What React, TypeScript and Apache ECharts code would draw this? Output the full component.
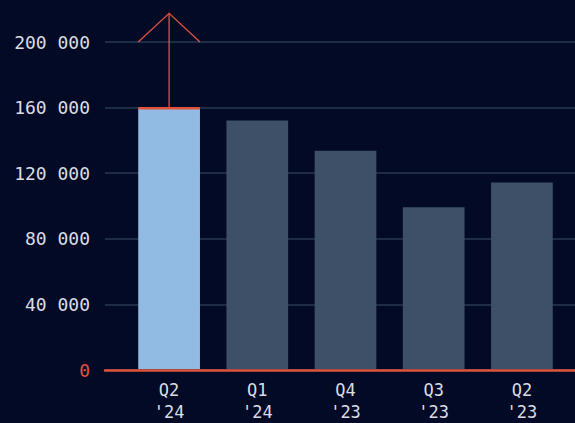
import React, { useEffect, useRef } from "react";
import * as echarts from "echarts";

const categories = ["Q2\n'24", "Q1\n'24", "Q4\n'23", "Q3\n'23", "Q2\n'23"];
const values = [159500, 152000, 133500, 99000, 114000];
const highlightIndex = 0;
const yTicks = { min: 0, max: 200000, interval: 40000 };
// arrow: [category index, start value, tip value, wing value]
const arrowData = [[0, 159500, 217500, 200000]];

const BG = "#020a26";
const RED = "#e0533d";
const LIGHT = "#92bbe3";
const SLATE = "#3d5068";
const GRID = "#2a3850";
const TEXT = "#dcdde3";
const FONT = "DejaVu Sans Mono";

function fmt(v: number) {
  return String(v).replace(/\B(?=(\d{3})+(?!\d))/g, " ");
}

export default function App() {
  const ref = useRef<HTMLDivElement>(null);
  useEffect(() => {
    if (!ref.current) return;
    const chart = echarts.init(ref.current, undefined, { renderer: "svg" });
    chart.setOption({
      animation: false,
      backgroundColor: BG,
      grid: [
        { left: 105, right: 0, top: 42, bottom: 53 },
        { left: 125, right: 9, top: 42, bottom: 53 },
      ],
      xAxis: [
        {
          gridIndex: 0,
          type: "category",
          data: [""],
          z: 5,
          axisLine: { show: true, lineStyle: { color: RED, width: 2.5 } },
          axisTick: { show: false },
          axisLabel: { show: false },
        },
        {
          gridIndex: 1,
          type: "category",
          data: categories,
          axisLine: { show: false },
          axisTick: { show: false },
          axisLabel: {
            color: TEXT,
            fontFamily: FONT,
            fontSize: 17,
            lineHeight: 22,
            margin: 10,
            align: "center",
          },
        },
      ],
      yAxis: [
        {
          gridIndex: 0,
          type: "value",
          min: yTicks.min,
          max: yTicks.max,
          interval: yTicks.interval,
          axisLine: { show: false },
          axisTick: { show: false },
          splitLine: { lineStyle: { color: GRID, width: 1.5 } },
          axisLabel: {
            margin: 15,
            fontFamily: FONT,
            fontSize: 18,
            formatter: (v: number) => fmt(v),
            color: (v: any) => (Number(v) === 0 ? RED : TEXT),
          },
        },
        {
          gridIndex: 1,
          type: "value",
          min: yTicks.min,
          max: yTicks.max,
          interval: yTicks.interval,
          show: false,
          splitLine: { show: false },
        },
      ],
      series: [
        {
          type: "bar",
          xAxisIndex: 1,
          yAxisIndex: 1,
          barWidth: "70%",
          data: values.map((v, i) => ({
            value: v,
            itemStyle: { color: i === highlightIndex ? LIGHT : SLATE },
          })),
        },
        {
          type: "custom",
          xAxisIndex: 1,
          yAxisIndex: 1,
          clip: false,
          z: 4,
          silent: true,
          data: arrowData,
          renderItem: (params: any, api: any) => {
            const idx = api.value(0);
            const base = api.coord([idx, api.value(1)]);
            const tip = api.coord([idx, api.value(2)]);
            const wing = api.coord([idx, api.value(3)]);
            const half = api.size([1, 0])[0] * 0.35;
            return {
              type: "group",
              children: [
                {
                  type: "line",
                  shape: { x1: base[0], y1: base[1], x2: tip[0], y2: tip[1] },
                  style: { stroke: RED, lineWidth: 1.3 },
                },
                {
                  type: "polyline",
                  shape: {
                    points: [
                      [base[0] - half, wing[1]],
                      [tip[0], tip[1]],
                      [base[0] + half, wing[1]],
                    ],
                  },
                  style: { stroke: RED, lineWidth: 1.3, fill: null },
                },
                {
                  type: "line",
                  shape: { x1: base[0] - half, y1: base[1], x2: base[0] + half, y2: base[1] },
                  style: { stroke: RED, lineWidth: 2.5 },
                },
              ],
            };
          },
        },
      ],
    });
    return () => chart.dispose();
  }, []);
  return (
    <div
      ref={ref}
      style={{ position: "fixed", left: 0, top: 0, width: 575, height: 423, background: BG }}
    />
  );
}
